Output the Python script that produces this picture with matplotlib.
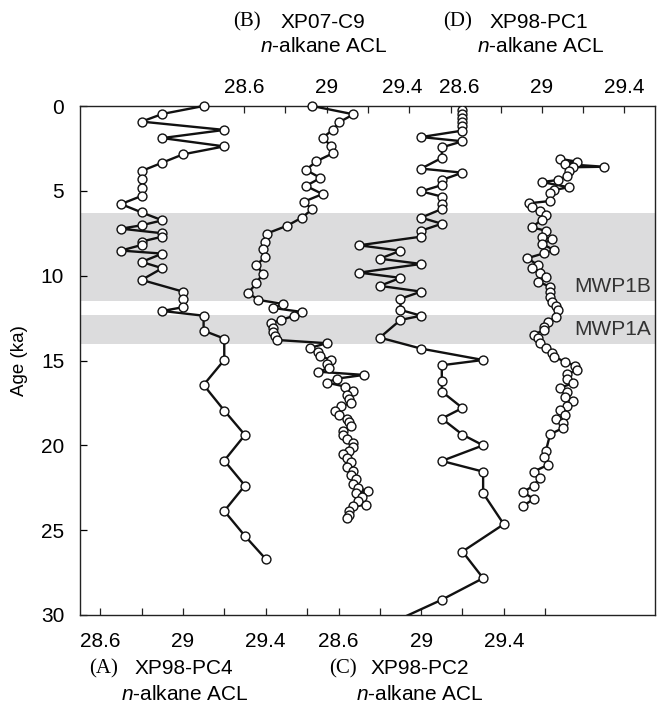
import numpy as np
import matplotlib
matplotlib.use('Agg')
import matplotlib.pyplot as plt
from matplotlib.transforms import ScaledTranslation

plt.rcParams['font.family'] = ['Liberation Sans', 'DejaVu Sans']
plt.rcParams['mathtext.fontset'] = 'custom'
plt.rcParams['mathtext.rm'] = 'Liberation Sans'
plt.rcParams['mathtext.it'] = 'Liberation Sans:italic'

# ── Data: age (ka) and n-alkane ACL for the four cores ───────────────────────
age_a = [0.0, 0.47, 0.92, 1.41, 1.89, 2.38, 2.85, 3.34, 3.83, 4.32, 4.81, 5.30,
         5.78, 6.27, 6.74, 7.03, 7.23, 7.50, 7.70, 7.99, 8.19, 8.52, 8.70, 9.19,
         9.56, 10.25, 10.94, 11.39, 11.86, 12.08, 12.36, 13.24, 13.71, 14.97,
         16.44, 17.95, 19.39, 20.90, 22.37, 23.87, 25.34, 26.69]
acl_a = [29.1, 28.9, 28.8, 29.2, 28.9, 29.2, 29.0, 28.9, 28.8, 28.8, 28.8, 28.8,
         28.7, 28.8, 28.9, 28.8, 28.7, 28.9, 28.9, 28.8, 28.8, 28.7, 28.9, 28.8,
         28.9, 28.8, 29.0, 29.0, 29.0, 28.9, 29.1, 29.1, 29.2, 29.2,
         29.1, 29.2, 29.3, 29.2, 29.3, 29.2, 29.3, 29.4]

age_b = [0.0, 0.49, 0.96, 1.41, 1.87, 2.33, 2.79, 3.26, 3.77, 4.24, 4.71, 5.19,
         5.64, 6.09, 6.58, 7.05, 7.52, 8.0, 8.45, 8.92, 9.37, 9.88, 10.45, 11.02,
         11.43, 11.67, 11.90, 12.14, 12.37, 12.61, 12.81, 13.06, 13.30, 13.55,
         13.79, 13.98, 14.26, 14.50, 14.73, 14.97, 15.20, 15.44, 15.66, 15.85,
         16.07, 16.30, 16.54, 16.77, 17.03, 17.25, 17.48, 17.71, 17.95, 18.19,
         18.42, 18.65, 18.86, 19.13, 19.37, 19.60, 19.84, 20.08, 20.31, 20.51,
         20.76, 21.0, 21.25, 21.5, 21.75, 22.0, 22.25, 22.5, 22.7, 22.8, 23.05,
         23.3, 23.5, 23.6, 23.85, 24.1, 24.3]
acl_b = [28.93, 29.13, 29.06, 29.03, 28.98, 29.02, 29.03, 28.95, 28.90, 28.97,
         28.90, 28.98, 28.89, 28.93, 28.88, 28.81, 28.71, 28.70, 28.69, 28.70,
         28.66, 28.69, 28.66, 28.62, 28.67, 28.79, 28.74, 28.88, 28.84, 28.78,
         28.73, 28.74, 28.74, 28.75, 28.76, 29.00, 28.92, 28.96, 28.97, 29.02,
         29.00, 29.01, 28.96, 29.18, 29.05, 29.00, 29.09, 29.13, 29.10, 29.11,
         29.12, 29.07, 29.04, 29.06, 29.10, 29.11, 29.12, 29.08, 29.08, 29.10,
         29.13, 29.13, 29.11, 29.08, 29.10, 29.12, 29.10, 29.13, 29.12, 29.14,
         29.13, 29.15, 29.20, 29.14, 29.17, 29.15, 29.19, 29.13, 29.11, 29.11,
         29.10]

age_c = [0.24, 0.47, 0.71, 0.94, 1.18, 1.45, 1.83, 2.08, 2.44, 3.06, 3.69, 3.93,
         4.36, 4.66, 5.03, 5.34, 5.78, 6.07, 6.58, 6.94, 7.35, 7.70, 8.21, 8.53,
         9.0, 9.31, 9.82, 10.13, 10.6, 10.94, 11.36, 12.02, 12.36, 12.61, 13.65,
         14.3, 14.97, 15.28, 16.22, 16.83, 17.80, 18.42, 19.37, 20.0, 20.92,
         21.55, 22.82, 24.65, 26.26, 27.83, 29.1, 31.0]
acl_c = [29.2, 29.2, 29.2, 29.2, 29.2, 29.2, 29.0, 29.2, 29.1, 29.1, 29.0, 29.2,
         29.1, 29.1, 29.0, 29.1, 29.1, 29.1, 29.0, 29.1, 29.0, 29.0, 28.7, 28.9,
         28.8, 29.0, 28.7, 28.9, 28.8, 29.0, 28.9, 28.9, 29.0, 28.9, 28.8,
         29.0, 29.3, 29.1, 29.1, 29.1, 29.2, 29.1, 29.2, 29.3, 29.1,
         29.3, 29.3, 29.4, 29.2, 29.3, 29.1, 28.76]

age_d = [3.12, 3.28, 3.42, 3.58, 3.61, 3.81, 4.12, 4.36, 4.48, 4.79, 4.95, 5.14,
         5.60, 5.73, 5.97, 6.19, 6.42, 6.72, 7.15, 7.35, 7.70, 7.86, 8.13, 8.49,
         8.68, 8.97, 9.37, 9.56, 9.86, 10.09, 10.35, 10.65, 10.94, 11.24, 11.53,
         11.77, 12.02, 12.42, 12.71, 13.0, 13.20, 13.49, 13.69, 13.98, 14.28,
         14.57, 14.77, 15.07, 15.30, 15.56, 15.81, 16.10, 16.34, 16.60, 16.84,
         17.17, 17.40, 17.68, 17.91, 18.21, 18.44, 18.70, 18.99, 19.35, 20.31,
         20.70, 21.15, 21.55, 21.94, 22.37, 22.76, 23.16, 23.57]
acl_d = [29.09, 29.17, 29.11, 29.30, 29.15, 29.13, 29.12, 29.08, 29.00, 29.13,
         29.06, 29.04, 29.04, 28.94, 28.95, 28.99, 29.02, 29.00, 28.95, 29.02,
         29.00, 29.05, 29.00, 29.06, 29.01, 28.93, 28.98, 28.95, 28.99, 29.02,
         28.98, 29.04, 29.04, 29.04, 29.05, 29.07, 29.08, 29.07, 29.03, 29.01,
         29.01, 28.96, 28.98, 28.99, 29.02, 29.05, 29.06, 29.11, 29.16, 29.17,
         29.12, 29.12, 29.15, 29.09, 29.12, 29.11, 29.15, 29.12, 29.09, 29.11,
         29.07, 29.10, 29.10, 29.04, 29.02, 29.01, 29.03, 28.96, 28.99, 28.96,
         28.91, 28.96, 28.91]

# meltwater pulse bands (ka)
mwp_names = ['MWP1B', 'MWP1A']
mwp_start = [6.3, 12.3]
mwp_end = [11.5, 14.0]

acl_ticks = [28.6, 28.8, 29.0, 29.2, 29.4, 29.6]
acl_ticklabels = ['28.6', '', '29', '', '29.4', '']

# ── Layout (pixels of a 666 x 706 image) ─────────────────────────────────────
W, H = 666, 706
L_PX, R_PX, T_PX, B_PX = 79.5, 655, 106, 615
PX_PER_ACL = 206.6
FS = 15

fig = plt.figure(figsize=(W / 100, H / 100), dpi=100)
ax = fig.add_axes([L_PX / W, 1 - B_PX / H, (R_PX - L_PX) / W, (B_PX - T_PX) / H])

for y0, y1 in zip(mwp_start, mwp_end):
    ax.axhspan(y0, y1, color='#dcdcdd', lw=0, zorder=0)
for name, y1 in zip(mwp_names, mwp_end):
    ax.text(0.993, y1 - 0.85, name, transform=ax.get_yaxis_transform(),
            ha='right', va='center', fontsize=FS, color='#333333')

ax.set_ylim(30, 0)
ax.set_yticks(np.arange(0, 31, 5))
ax.set_xticks([])
ax.tick_params(axis='y', direction='in', length=5, width=0.9, labelsize=FS, pad=11)
ax.set_ylabel('Age (ka)', fontsize=13.5, labelpad=9)
for sp in ax.spines.values():
    sp.set_linewidth(1.0)
    sp.set_color('#222222')


def add_series(age, acl, anchor_val, anchor_px, side, clip=False, hide_first=False):
    axs = ax.twiny()
    lo = anchor_val - (anchor_px - L_PX) / PX_PER_ACL
    hi = anchor_val + (R_PX - anchor_px) / PX_PER_ACL
    axs.set_xlim(lo, hi)
    axs.plot(acl, age, color='#111111', lw=1.7, marker='o', ms=6.4,
             mfc='white', mec='#111111', mew=1.0, clip_on=clip, zorder=3)
    for sp in axs.spines.values():
        sp.set_visible(False)
    axs.xaxis.set_ticks_position(side)
    axs.set_xticks(acl_ticks[:-1] if hide_first else acl_ticks)
    axs.set_xticklabels(acl_ticklabels[:-1] if hide_first else acl_ticklabels)
    axs.tick_params(axis='x', direction='in', length=5, width=0.9,
                    labelsize=FS, pad=12 if side == 'bottom' else 6.5,
                    color='#222222')
    if hide_first:
        t = axs.xaxis.get_major_ticks()[0]
        t.tick1line.set_visible(False)
        t.tick2line.set_visible(False)
    return axs


add_series(age_a, acl_a, 28.6, 100.3, 'bottom')
axb = add_series(age_b, acl_b, 28.6, 244.0, 'top')
add_series(age_c, acl_c, 28.6, 338.5, 'bottom', clip=True)
add_series(age_d, acl_d, 28.6, 459.2, 'top', hide_first=True)

# nudge B's "29.4" left, as in the original figure
lab = axb.get_xticklabels()[4]
lab.set_transform(lab.get_transform() + ScaledTranslation(-0.07, 0, fig.dpi_scale_trans))

# ── Core labels ──────────────────────────────────────────────────────────────
def core_label(x_tag, x_name, x_mid, y1, y2, tag, name):
    fig.text(x_tag / W, 1 - y1 / H, tag, family='Liberation Serif', fontsize=FS,
             ha='left', va='center')
    fig.text(x_name / W, 1 - y1 / H, name, fontsize=FS, ha='left', va='center')
    fig.text(x_mid / W, 1 - y2 / H, r'$n$-alkane ACL', fontsize=FS,
             ha='center', va='center')


core_label(89, 135, 184.5, 669, 694, '(A)', 'XP98-PC4')
core_label(329, 371, 420, 669, 694, '(C)', 'XP98-PC2')
core_label(233, 281, 324, 22, 47, '(B)', 'XP07-C9')
core_label(443, 490, 541, 22, 47, '(D)', 'XP98-PC1')

fig.savefig('out.png', dpi=100)
